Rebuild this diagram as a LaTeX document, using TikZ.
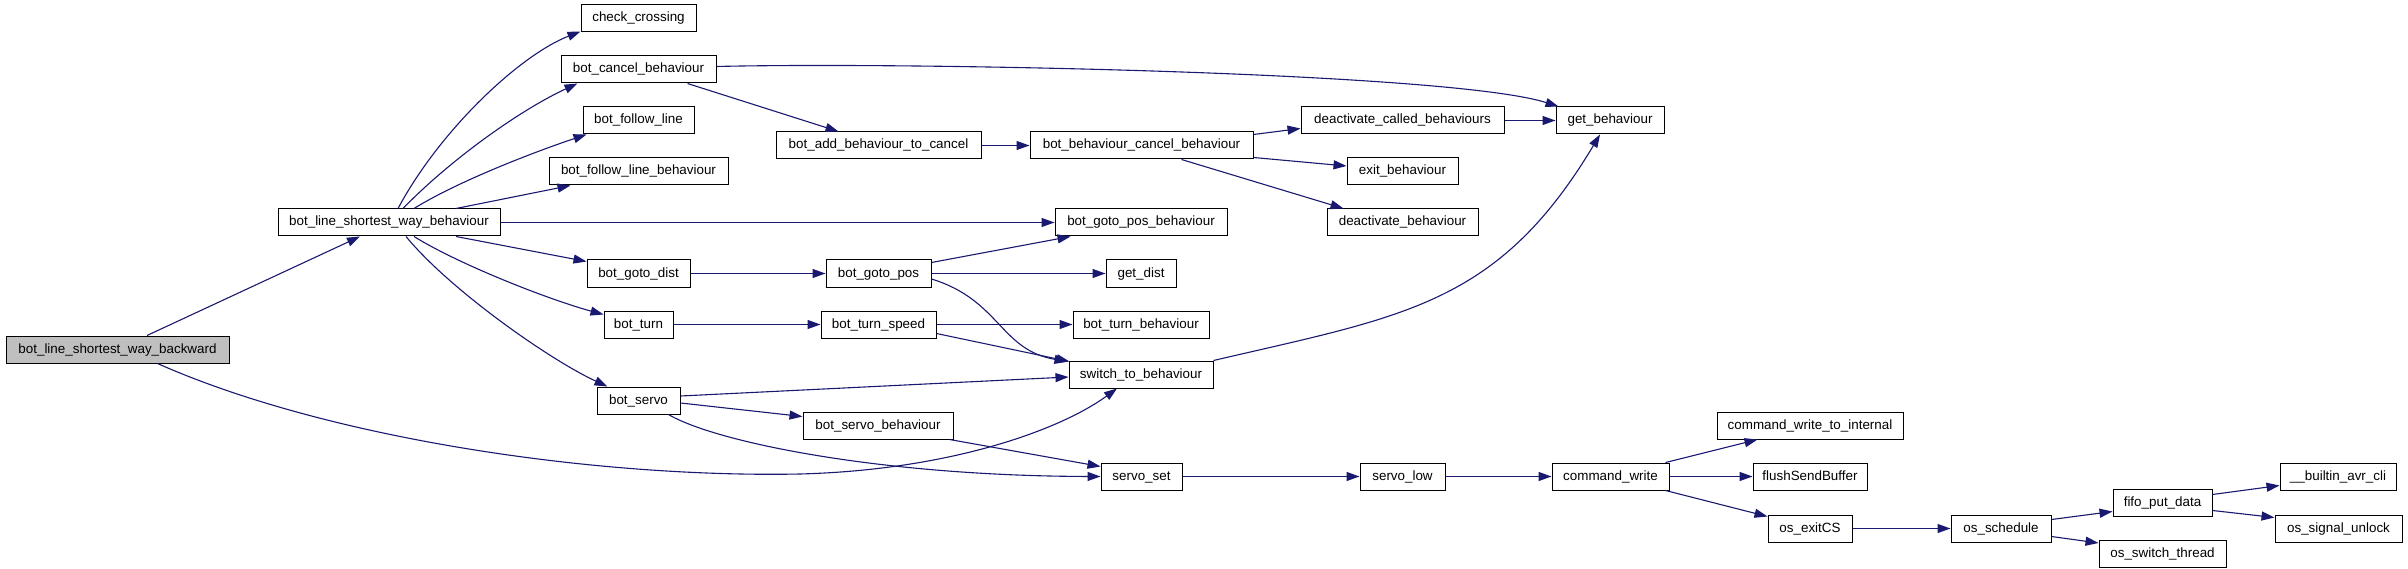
\documentclass[tikz,border=0pt]{standalone}
\usepackage{fontspec}
\setmainfont{Liberation Sans}
\usetikzlibrary{arrows.meta}
\definecolor{edgec}{HTML}{191970}
\definecolor{graynode}{HTML}{BFBFBF}
\tikzset{
  fn/.style={draw=black, line width=1pt, fill=white, inner sep=0pt,
    minimum height=27pt, text height=10pt, text depth=3pt,
    font=\fontsize{13.4}{16}\selectfont, anchor=center},
  root/.style={fn, fill=graynode},
  call/.style={draw=edgec, line width=1.1pt, -{Triangle[length=13pt,width=9pt]}}
}
\begin{document}
\begin{tikzpicture}[x=1pt,y=-1pt]
\fill[white] (0,0) rectangle (2408,569);
\useasboundingbox (0,0) rectangle (2408,569);
% column 0
\node[root, minimum width=223pt] (bw) at (117.5,349.5) {bot\_line\_shortest\_way\_backward};
% column 1
\node[fn, minimum width=222pt] (bh) at (389,222.5) {bot\_line\_shortest\_way\_behaviour};
% column 2
\node[fn, minimum width=115pt] (cc) at (638.5,18.5) {check\_crossing};
\node[fn, minimum width=155pt] (bcb) at (638.5,69.5) {bot\_cancel\_behaviour};
\node[fn, minimum width=111pt] (bfl) at (638.5,120.5) {bot\_follow\_line};
\node[fn, minimum width=179pt] (bflb) at (638.5,171.5) {bot\_follow\_line\_behaviour};
\node[fn, minimum width=103pt] (bgd) at (638.5,273.5) {bot\_goto\_dist};
\node[fn, minimum width=69pt] (bt) at (638.5,324.5) {bot\_turn};
\node[fn, minimum width=83pt] (bs) at (638.5,400.5) {bot\_servo};
% column 3
\node[fn, minimum width=205pt] (babc) at (878.5,145.5) {bot\_add\_behaviour\_to\_cancel};
\node[fn, minimum width=105pt] (bgp) at (878.5,273.5) {bot\_goto\_pos};
\node[fn, minimum width=115pt] (bts) at (878.5,324.5) {bot\_turn\_speed};
\node[fn, minimum width=150pt] (bsb) at (878,425.5) {bot\_servo\_behaviour};
% column 4
\node[fn, minimum width=223pt] (bbcb) at (1141.5,145.5) {bot\_behaviour\_cancel\_behaviour};
\node[fn, minimum width=172pt] (bgpb) at (1141,222.5) {bot\_goto\_pos\_behaviour};
\node[fn, minimum width=70pt] (gd) at (1141,273.5) {get\_dist};
\node[fn, minimum width=136pt] (btb) at (1141,324.5) {bot\_turn\_behaviour};
\node[fn, minimum width=144pt] (stb) at (1141,374.5) {switch\_to\_behaviour};
\node[fn, minimum width=81pt] (ss) at (1141.5,476.5) {servo\_set};
% column 5
\node[fn, minimum width=203pt] (dcb) at (1402.5,120.5) {deactivate\_called\_behaviours};
\node[fn, minimum width=111pt] (eb) at (1402.5,171.5) {exit\_behaviour};
\node[fn, minimum width=151pt] (db) at (1402.5,222.5) {deactivate\_behaviour};
\node[fn, minimum width=85pt] (sl) at (1402.5,476.5) {servo\_low};
% column 6
\node[fn, minimum width=108pt] (gb) at (1610,120.5) {get\_behaviour};
\node[fn, minimum width=117pt] (cw) at (1610.5,476.5) {command\_write};
% column 7
\node[fn, minimum width=186pt] (cwti) at (1810,425.5) {command\_write\_to\_internal};
\node[fn, minimum width=114pt] (fsb) at (1810,476.5) {flushSendBuffer};
\node[fn, minimum width=84pt] (oe) at (1810,528.5) {os\_exitCS};
% column 8
\node[fn, minimum width=100pt] (os) at (2001,528.5) {os\_schedule};
% column 9
\node[fn, minimum width=99pt] (fpd) at (2162.5,502.5) {fifo\_put\_data};
\node[fn, minimum width=127pt] (ost) at (2162.5,553.5) {os\_switch\_thread};
% column 10
\node[fn, minimum width=116pt] (bac) at (2338,476.5) {\_\_builtin\_avr\_cli};
\node[fn, minimum width=127pt] (osu) at (2338.5,528.5) {os\_signal\_unlock};

% edges
\draw[call] ([xshift=29.5pt]bw.north) -- ([xshift=-29pt]bh.south);
\draw[call] ([xshift=40pt]bw.south) .. controls (330,440) and (600,478) .. (800,474)
   .. controls (950,470) and (1060,430) .. ([xshift=-24pt]stb.south);
\draw[call] ([xshift=9pt]bh.north) .. controls (440,130) and (520,55) .. ([yshift=1pt]cc.south west);
\draw[call] ([xshift=14pt]bh.north) .. controls (450,160) and (520,110) .. ([xshift=17pt]bcb.south west);
\draw[call] ([xshift=25pt]bh.north) .. controls (460,180) and (540,150) .. ([xshift=4pt]bfl.south west);
\draw[call] ([xshift=67pt]bh.north) -- ([xshift=22pt]bflb.south west);
\draw[call] (bh.east) -- (bgpb.west);
\draw[call] ([xshift=67pt]bh.south) -- ([yshift=-2pt]bgd.north west);
\draw[call] ([xshift=25pt]bh.south) .. controls (460,265) and (550,300) .. ([yshift=-4pt]bt.north west);
\draw[call] ([xshift=17pt]bh.south) .. controls (450,290) and (550,360) .. ([xshift=11pt]bs.north west);
\draw[call] ([yshift=3pt]bcb.east) .. controls (900,62) and (1450,72) .. ([xshift=3pt]gb.north west);
\draw[call] ([xshift=49pt]bcb.south) -- ([xshift=63pt]babc.north west);
\draw[call] (babc.east) -- (bbcb.west);
\draw[call] ([yshift=-3pt]bbcb.north east) -- ([yshift=6pt]dcb.south west);
\draw[call] ([yshift=2pt]bbcb.south east) -- ([yshift=5.5pt]eb.west);
\draw[call] ([xshift=40pt]bbcb.south) -- ([xshift=17pt]db.north west);
\draw[call] (dcb.east) -- (gb.west);
\draw[call] (bgd.east) -- (bgp.west);
\draw[call] ([yshift=-3pt]bgp.north east) -- ([xshift=16pt]bgpb.south west);
\draw[call] (bgp.east) -- (gd.west);
\draw[call] ([yshift=-5.5pt]bgp.east) .. controls (1000,300) and (1000,350) .. ([xshift=-1pt,yshift=-1pt]stb.north west);
\draw[call] (bt.east) -- (bts.west);
\draw[call] (bts.east) -- (btb.west);
\draw[call] ([yshift=5pt]bts.south east) -- ([xshift=1pt,yshift=-1pt]stb.north west);
\draw[call] ([yshift=4.5pt]bs.east) -- ([yshift=-2.5pt]stb.west);
\draw[call] ([yshift=-2.5pt]bs.east) -- ([yshift=9pt]bsb.west);
\draw[call] ([xshift=-12pt]bs.south east) .. controls (715,442) and (880,476) .. (ss.west);
\draw[call] ([xshift=-4pt]bsb.south east) -- ([yshift=-4pt]ss.north west);
\draw[call] (stb.north east) .. controls (1404,316) and (1498,305) .. ([xshift=-10pt]gb.south);
\draw[call] (ss.east) -- (sl.west);
\draw[call] (sl.east) -- (cw.west);
\draw[call] ([xshift=-4pt]cw.north east) -- ([xshift=41pt]cwti.south west);
\draw[call] (cw.east) -- (fsb.west);
\draw[call] ([xshift=-4pt]cw.south east) -- ([yshift=-2pt]oe.north west);
\draw[call] (oe.east) -- (os.west);
\draw[call] ([yshift=-5pt]os.north east) -- ([yshift=5pt]fpd.south west);
\draw[call] ([yshift=6pt]os.south east) -- ([yshift=-3.5pt]ost.north west);
\draw[call] ([yshift=-6pt]fpd.north east) -- ([yshift=5pt]bac.south west);
\draw[call] ([yshift=6pt]fpd.south east) -- ([yshift=-3pt]osu.north west);
\end{tikzpicture}
\end{document}
